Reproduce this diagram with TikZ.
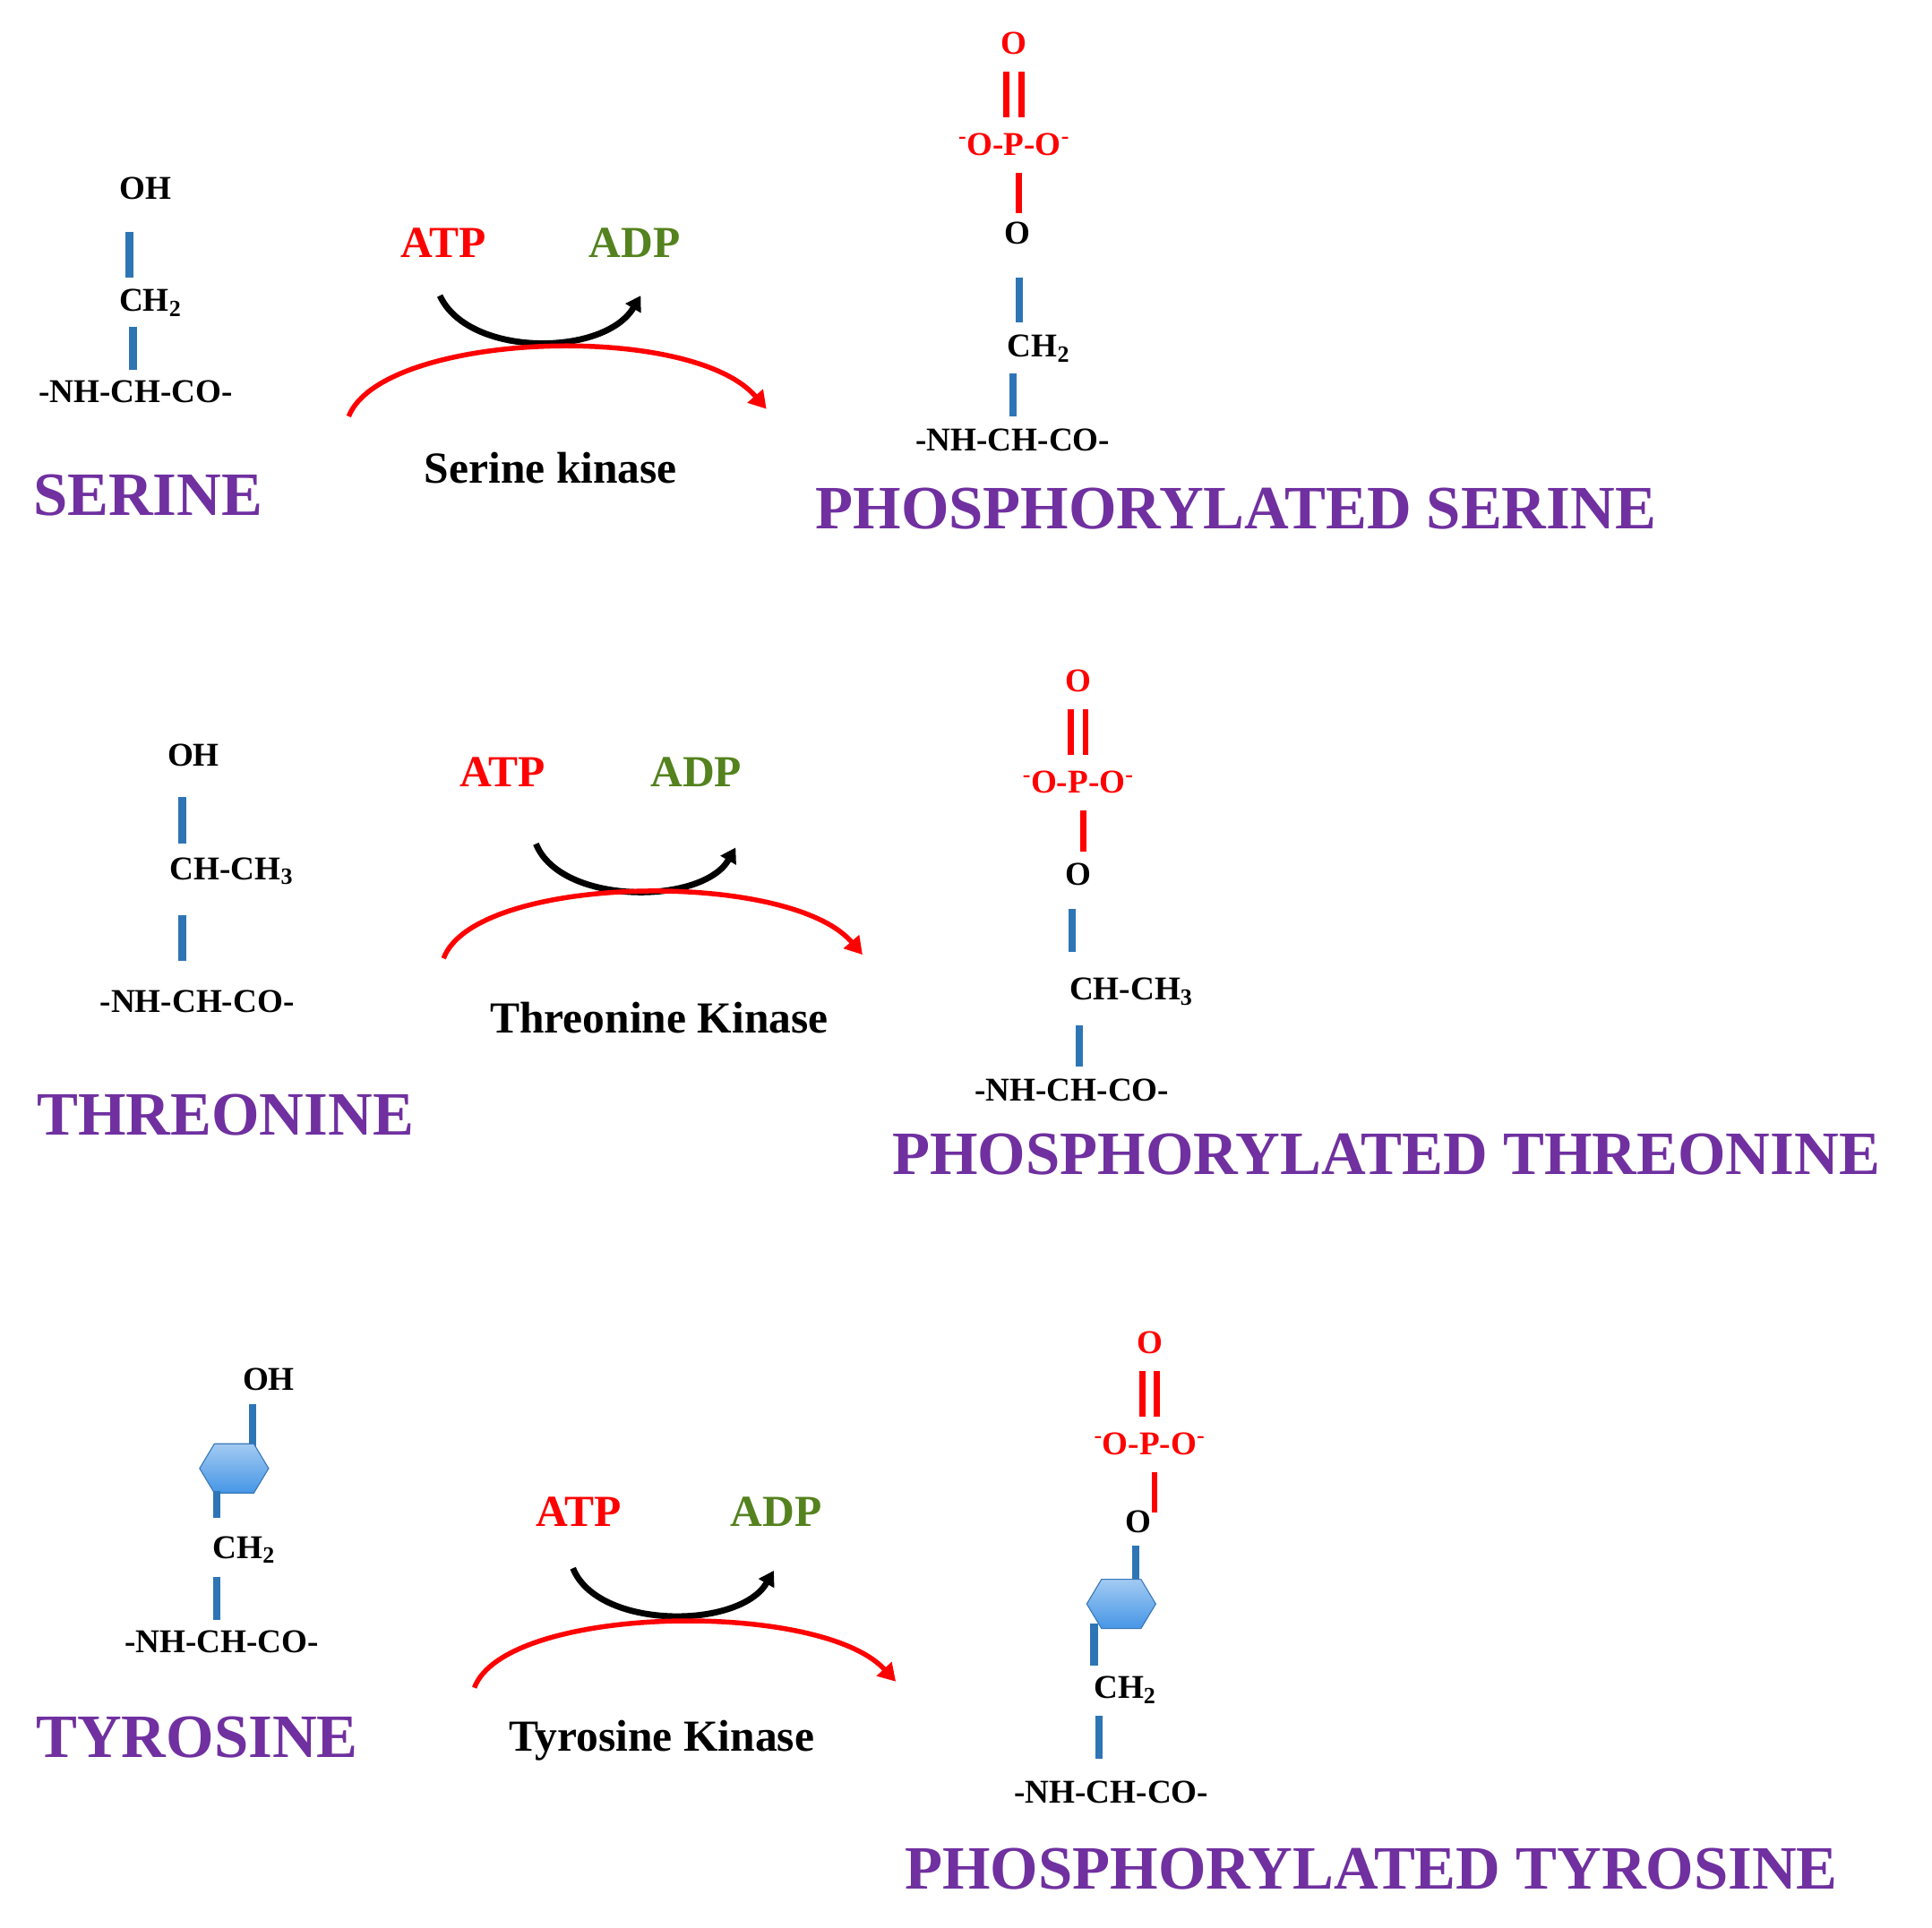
\documentclass[tikz,border=0pt]{standalone}
\usepackage{fontspec}
\setmainfont{Liberation Serif}
\usetikzlibrary{arrows.meta}
\definecolor{ttl}{RGB}{112,48,160}
\definecolor{bbar}{RGB}{46,117,182}
\definecolor{adp}{RGB}{84,130,30}
\definecolor{hexc}{RGB}{70,150,230}
\tikzset{
 chem/.style={font=\bfseries\fontsize{27}{27}\selectfont, inner sep=0pt},
 redt/.style={chem, text=red},
 ttlt/.style={font=\bfseries\fontsize{50}{50}\selectfont, text=ttl, inner sep=0pt},
 kin/.style={font=\bfseries\fontsize{36}{36}\selectfont, inner sep=0pt},
 atp/.style={font=\bfseries\fontsize{36}{36}\selectfont, text=red, inner sep=0pt},
 adpt/.style={font=\bfseries\fontsize{36}{36}\selectfont, text=adp, inner sep=0pt},
 bb/.style={draw=bbar, line width=6pt},
 rb/.style={draw=red, line width=5pt},
 blk/.style={line width=5pt, -{Triangle[length=12pt,width=14pt]}},
 reda/.style={draw=red, line width=4pt, -{Triangle[length=14pt,width=16pt]}},
 hexs/.style={top color=hexc!50, bottom color=hexc, draw=hexc!80!black, line width=0.8pt}
}
\newcommand{\phos}[2]{% x, y of O top
 \node[redt] at (#1,#2) {O};
 \draw[rb] (#1-6,#2+23) -- (#1-6,#2+60);
 \draw[rb] (#1+6,#2+23) -- (#1+6,#2+60);
 \node[redt] at (#1,#2+82) {\textsuperscript{-}O-P-O\textsuperscript{-}};
 \draw[rb] (#1+4,#2+105) -- (#1+4,#2+138);
}
\newcommand{\hexa}[2]{\draw[hexs] (#1-28,#2) -- (#1-16,#2-20) -- (#1+16,#2-20) -- (#1+28,#2) -- (#1+16,#2+20) -- (#1-16,#2+20) -- cycle;}
\begin{document}
\begin{tikzpicture}[x=1pt,y=-1pt]
\useasboundingbox (0,0) rectangle (1568,1565);
\fill[white] (0,0) rectangle (1568,1565);
% ---------- SERINE
\node[chem] (s1) at (118,153) {OH};
\draw[bb] (105,188) -- (105,225);
\node[chem] (s2) at (122,246) {CH\textsubscript{2}};
\draw[bb] (108,265) -- (108,300);
\node[chem] (s3) at (110,318) {-NH-CH-CO-};
\node[ttlt] (s4) at (120,402) {SERINE};
\node[atp] (sa) at (360,197) {ATP};
\node[adpt] (sd) at (515,197) {ADP};
\coordinate (sb1) at (357,240); \coordinate (sb2) at (520,240);
\draw[blk] (sb1) .. controls (380,290) and (490,290) .. (sb2);
\coordinate (sr1) at (283,338); \coordinate (sr2) at (622,332);
\draw[reda] (sr1) .. controls (310,270) and (560,260) .. (sr2);
\node[kin] (sk) at (447,380) {Serine kinase};
\phos{823}{35}
\node[chem] (p1) at (826,189) {O};
\draw[bb] (827,225) -- (827,262);
\node[chem] (p2) at (843,283) {CH\textsubscript{2}};
\draw[bb] (822,303) -- (822,338);
\node[chem] (p3) at (822,357) {-NH-CH-CO-};
\node[ttlt] (p4) at (1003,413) {PHOSPHORYLATED SERINE};
% ---------- THREONINE
\node[chem] (t1) at (157,613) {OH};
\draw[bb] (148,647) -- (148,685);
\node[chem] (t2) at (188,707) {CH-CH\textsubscript{3}};
\draw[bb] (148,743) -- (148,780);
\node[chem] (t3) at (160,813) {-NH-CH-CO-};
\node[ttlt] (t4) at (183,905) {THREONINE};
\node[atp] (ta) at (408,627) {ATP};
\node[adpt] (td) at (565,627) {ADP};
\coordinate (tb1) at (435,685); \coordinate (tb2) at (597,688);
\draw[blk] (tb1) .. controls (455,735) and (570,735) .. (tb2);
\coordinate (tr1) at (360,778); \coordinate (tr2) at (700,775);
\draw[reda] (tr1) .. controls (385,710) and (640,705) .. (tr2);
\node[kin] (tk) at (535,826) {Threonine Kinase};
\phos{875}{553}
\node[chem] (q1) at (875,710) {O};
\draw[bb] (870,738) -- (870,773);
\node[chem] (q2) at (918,805) {CH-CH\textsubscript{3}};
\draw[bb] (876,832) -- (876,866);
\node[chem] (q3) at (870,885) {-NH-CH-CO-};
\node[ttlt] (q4) at (1125,937) {PHOSPHORYLATED THREONINE};
% ---------- TYROSINE
\node[chem] (y1) at (218,1120) {OH};
\draw[bb] (205,1140) -- (205,1175);
\hexa{190}{1192}
\draw[bb] (176,1210) -- (176,1232);
\node[chem] (y2) at (198,1258) {CH\textsubscript{2}};
\draw[bb] (176,1280) -- (176,1315);
\node[chem] (y3) at (180,1333) {-NH-CH-CO-};
\node[ttlt] (y4) at (160,1410) {TYROSINE};
\node[atp] (ya) at (470,1227) {ATP};
\node[adpt] (yd) at (630,1227) {ADP};
\coordinate (yb1) at (465,1273); \coordinate (yb2) at (628,1275);
\draw[blk] (yb1) .. controls (485,1323) and (600,1323) .. (yb2);
\coordinate (yr1) at (385,1370); \coordinate (yr2) at (727,1365);
\draw[reda] (yr1) .. controls (410,1303) and (665,1298) .. (yr2);
\node[kin] (yk) at (537,1413) {Tyrosine Kinase};
\phos{933}{1090}
\node[chem] (r1) at (924,1235) {O};
\draw[bb] (922,1255) -- (922,1282);
\hexa{910}{1302}
\draw[bb] (888,1318) -- (888,1352);
\node[chem] (r2) at (913,1372) {CH\textsubscript{2}};
\draw[bb] (892,1393) -- (892,1428);
\node[chem] (r3) at (902,1455) {-NH-CH-CO-};
\node[ttlt] (r4) at (1113,1517) {PHOSPHORYLATED TYROSINE};
\end{tikzpicture}
\end{document}
